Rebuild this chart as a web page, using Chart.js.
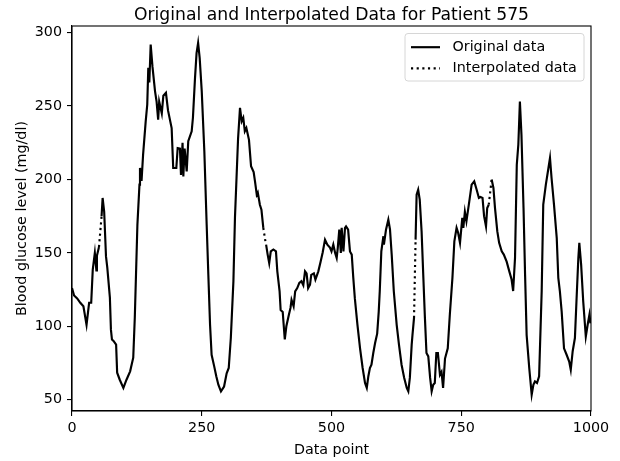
<!DOCTYPE html>
<html>
<head>
<meta charset="utf-8">
<script src="https://cdn.jsdelivr.net/npm/chart.js@4/dist/chart.umd.min.js"></script>
<style>
  body { margin: 0; background: #fff; }
  #wrap { width: 620px; height: 461px; }
</style>
</head>
<body>
<div id="wrap"><canvas id="myChart" width="620" height="461"></canvas></div>
<script>
// data (null = gap where the interpolated line shows)
var dataPoint = [0, 4, 10, 16, 22, 28, 31, 33, 37, 40, 44, 47, 48, 52, 55, 57, 59, 62, 65.5, 68, 73, 75, 77, 80, 85, 87, 92, 99,
    105, 112, 118, 121, 126, 130, 131, 134, 137, 142, 145, 147, 149, 151.6, 155, 160, 163, 166, 168, 173, 176, 181, 185, 192,
    195, 201, 203.6, 208, 210, 213, 214.5, 217, 221, 224, 230.6, 233, 237, 240, 243, 246, 250, 255, 259.5, 262.7, 266, 269,
    274, 278, 282, 287, 293, 298, 302, 306, 311, 314, 317, 320, 323.7, 327, 330, 333, 336, 341, 345, 350, 352.6, 356, 358,
    362, 365, 368.6, 371, 374, 377, 380, 383, 388, 393, 395.6, 400, 402, 406, 410, 413, 418, 421, 423, 427, 430, 434, 438,
    442, 445.7, 449, 452, 455, 458.6, 461, 466, 469, 474.6, 479, 483, 487.5, 492, 497, 500, 503.5, 507, 510, 512, 515, 518,
    519.6, 523, 526, 528, 532, 535.6, 539, 542, 545, 550, 555, 560, 564.6, 568, 571, 574, 577, 580.5, 584, 588, 591, 593,
    596, 600, 601, 605, 609.5, 612.7, 616, 620, 625.6, 630, 635, 640, 645, 648, 651, 654.5, 656, 659, 660.5, 662, 664, 667,
    670, 673.6, 677, 680, 683, 686.5, 690, 693, 696, 699, 702, 705, 709, 712, 715, 718.7, 724, 728, 733, 736.7, 741, 744,
    747.6, 752, 754, 757, 760, 765.5, 770, 775, 779.7, 784, 787, 791, 794, 797.7, 800, 803, 805, 808.6, 812, 815, 819.5,
    823, 828, 832, 837.5, 842.6, 847, 850, 853.6, 857, 860, 863, 866, 870, 873, 876, 881, 885.7, 889, 892, 896, 900, 905,
    908, 913, 918, 921, 924, 928.7, 934, 937, 940, 943.5, 948, 953, 958, 961, 964.7, 969, 972, 975.6, 977.5, 981, 985, 990,
    994, 997, 999];
var glucose = [126, 121, 119, 116, 113.6, 101, 110, 116, 116, 138.6, 150, 138, 148, 154, null, 175, 187.4, 178, 147.6, 140, 119.5, 97.7, 91, 90, 87.5, 68.4, 63.6, 58,
    63.6, 69.3, 78.6, 106, 169, 196.5, 207.8, 199, 217, 239.6, 251, 276, 266, 291.8, 277, 260, 253, 240.7, 253, 245, 257, 259, 247, 235,
    207.8, 207.8, 221.4, 221, 203, 225, 202, 221, 205.5, 226, 232.8, 242, 269, 286, 293, 282.8, 260, 219, 169, 135, 101, 80.6,
    72.7, 66, 60.2, 55.7, 59, 68, 71.6, 92, 130.6, 174, 201, 228, 248.7, 239.6, 242, 232.8, 235, 227, 209, 205, 198.7, 189.6, 191,
    182.8, 179.4, 167, null, 155.6, 148.8, 143, 151, 152.3, 151, 137.4, 123.8, 111, 109.7, 91, 100, 108, 112.5, 118, 113.6, 123.8, 126, 129.5,
    130.7, 128, 137.4, 136, 126, 128.4, 135, 136, 131.8, 137.4, 144, 150.3, 159, 155.6, 153.6, 151, 155.6, 150, 146.5, 153, 165.8, 150,
    167, 151, 167, 168, 165.8, 151, 148.8, 133, 119, 101, 85, 71.6, 61.4, 58, 66, 71.6, 73.8, 81.8, 88.6, 95, 110, 124,
    151, 161.3, 155.6, 165.8, 172.6, 166, 148.8, 124, 101, 87.5, 73.8, 65, 58, 55.7, 65, 87.5, 94, 105.7, null, 159, 189.6, 193,
    186.2, 164.6, 133, 105.7, 81.8, 79.5, 65, 55.7, 60.2, 61.4, 81.8, 81.8, 67, 69, 58, 78, 85, 108, 133, 157.8, 167, 163.7,
    156.8, 173.8, 167, 178, 171.5, 185, 196.5, 198.7, 193, 187.4, 188, 187.4, 175, 168, 180.6, 182.8, null, 200, 194.2, 180.6, 164.6,
    156.8, 151, 148.8, 144, 137.4, 131.8, 124, 146.5, 210, 223.7, 253, 230.5, 180.6, 135, 94, 71.6, 53.4, 60.2, 62.5, 61.4, 66, 124,
    182.8, 196.5, 207.8, 214.6, 201, 182.8, 160, 133, 124, 110, 85, 80.6, 76, 70.4, 83, 92, 117, 146.5, 156.8, 142, 117, 93,
    102, 108, 102];

// interpolated stretches (only the gaps)
var interpPoint = [52, 57, 60, 368.6, 373, 374, 659, 662, 663, 803, 808.6];
var interpGlucose = [154, 175, null, 167, 157, null, 105.7, 159, null, 182.8, 200];

var xTicks = [0, 250, 500, 750, 1000];
var yTicks = [50, 100, 150, 200, 250, 300];

var titleText = "Original and Interpolated Data for Patient 575";
var seriesNames = ["Original data", "Interpolated data"];

function toPoints(xs, ys) {
    var pts = [];
    for (var i = 0; i < xs.length; i++) {
        pts.push({ x: xs[i], y: ys[i] });
    }
    return pts;
}

var FONT = "'DejaVu Sans', sans-serif";
var FS = 14.3;
var LW = 2.15;
var DOTS = [2.15, 3.5];

// frame, title and legend drawn like matplotlib
var mplLook = {
    id: "mplLook",
    afterDraw: function (chart) {
        var ctx = chart.ctx;
        var a = chart.chartArea;
        ctx.save();
        ctx.strokeStyle = "#000";
        ctx.lineWidth = 1.1;
        ctx.strokeRect(a.left, a.top, a.right - a.left, a.bottom - a.top);

        ctx.fillStyle = "#000";
        ctx.font = "17.2px " + FONT;
        ctx.textAlign = "center";
        ctx.textBaseline = "alphabetic";
        ctx.fillText(titleText, (a.left + a.right) / 2, 20);

        // legend box
        var bx = 405, by = 33.5, bw = 179, bh = 47.5, r = 3;
        ctx.beginPath();
        ctx.moveTo(bx + r, by);
        ctx.arcTo(bx + bw, by, bx + bw, by + bh, r);
        ctx.arcTo(bx + bw, by + bh, bx, by + bh, r);
        ctx.arcTo(bx, by + bh, bx, by, r);
        ctx.arcTo(bx, by, bx + bw, by, r);
        ctx.closePath();
        ctx.fillStyle = "rgba(255,255,255,0.8)";
        ctx.fill();
        ctx.strokeStyle = "#d6d6d6";
        ctx.lineWidth = 1;
        ctx.stroke();

        var rows = [47.2, 68.3];
        ctx.strokeStyle = "#000";
        ctx.lineWidth = LW;
        for (var i = 0; i < rows.length; i++) {
            ctx.setLineDash(i === 1 ? DOTS : []);
            ctx.beginPath();
            ctx.moveTo(411, rows[i]);
            ctx.lineTo(440, rows[i]);
            ctx.stroke();
        }
        ctx.setLineDash([]);
        ctx.fillStyle = "#000";
        ctx.font = FS + "px " + FONT;
        ctx.textAlign = "left";
        ctx.textBaseline = "middle";
        for (var j = 0; j < rows.length; j++) {
            ctx.fillText(seriesNames[j], 452.5, rows[j]);
        }
        ctx.restore();
    }
};

var ctx = document.getElementById("myChart").getContext("2d");
var chart = new Chart(ctx, {
    type: "line",
    data: {
        datasets: [{
            label: seriesNames[0],
            data: toPoints(dataPoint, glucose),
            borderColor: "#000",
            borderWidth: LW,
            pointRadius: 0,
            tension: 0,
            spanGaps: false
        }, {
            label: seriesNames[1],
            data: toPoints(interpPoint, interpGlucose),
            borderColor: "#000",
            borderWidth: LW,
            borderDash: DOTS,
            pointRadius: 0,
            tension: 0,
            spanGaps: false
        }]
    },
    options: {
        responsive: false,
        animation: false,
        layout: { padding: { top: 26, right: 29, left: 0, bottom: 0 } },
        plugins: {
            legend: { display: false },
            title: { display: false },
            tooltip: { enabled: false }
        },
        scales: {
            x: {
                type: "linear",
                min: 0,
                max: 1000,
                afterBuildTicks: function (scale) {
                    scale.ticks = xTicks.map(function (v) { return { value: v }; });
                },
                afterFit: function (scale) { scale.height = 50; },
                grid: { drawOnChartArea: false, color: "#000", lineWidth: 1.1, tickLength: 5 },
                border: { color: "#000", width: 1.1 },
                ticks: {
                    color: "#000", font: { family: FONT, size: FS }, padding: 4, maxRotation: 0,
                    callback: function (v) { return String(v); }
                },
                title: { display: true, text: "Data point", color: "#000", font: { family: FONT, size: FS }, padding: { top: 0, bottom: 2 } }
            },
            y: {
                min: 42.3,
                max: 304.5,
                afterBuildTicks: function (scale) {
                    scale.ticks = yTicks.map(function (v) { return { value: v }; });
                },
                afterFit: function (scale) { scale.width = 72; },
                grid: { drawOnChartArea: false, color: "#000", lineWidth: 1.1, tickLength: 5 },
                border: { color: "#000", width: 1.1 },
                ticks: {
                    color: "#000", font: { family: FONT, size: FS }, padding: 5,
                    callback: function (v) { return String(v); }
                },
                title: { display: true, text: "Blood glucose level (mg/dl)", color: "#000", font: { family: FONT, size: FS }, padding: { top: 14, bottom: 0 } }
            }
        }
    },
    plugins: [mplLook]
});
</script>
</body>
</html>
